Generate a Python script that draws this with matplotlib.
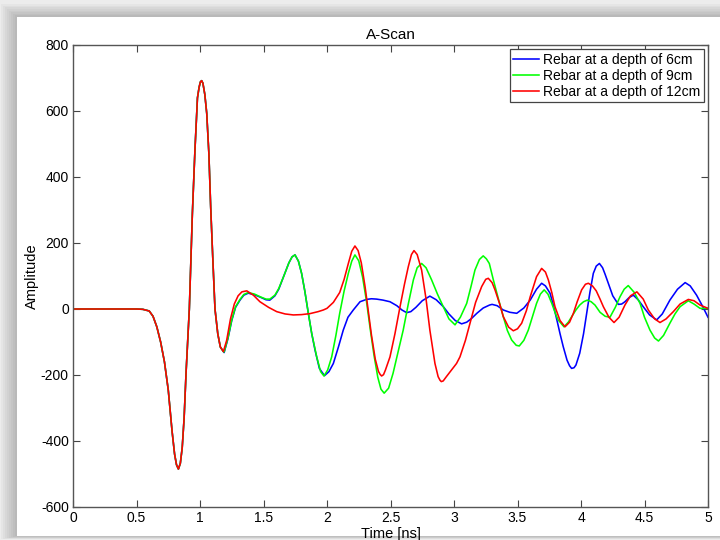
import matplotlib
matplotlib.use("Agg")
import matplotlib.pyplot as plt
from matplotlib.patches import Rectangle

plt.rcParams['font.family'] = ['Liberation Sans', 'DejaVu Sans']
plt.rcParams['axes.unicode_minus'] = False

# ---------------- data ----------------
title = "A-Scan"
xlabel = "Time [ns]"
ylabel = "Amplitude"
labels = ["Rebar at a depth of 6cm", "Rebar at a depth of 9cm", "Rebar at a depth of 12cm"]
colors = ["#0000ff", "#00ff00", "#ff0000"]
xticks = [0, 0.5, 1, 1.5, 2, 2.5, 3, 3.5, 4, 4.5, 5]
xticklabels = ["0", "0.5", "1", "1.5", "2", "2.5", "3", "3.5", "4", "4.5", "5"]
yticks = [-600, -400, -200, 0, 200, 400, 600, 800]

# shared direct pulse (identical for all three depths)
pulse_t = [0, 0.5, 0.55, 0.6, 0.63, 0.66, 0.69, 0.72, 0.75, 0.78, 0.80, 0.815, 0.83,
           0.845, 0.86, 0.875, 0.89, 0.916, 0.94, 0.96, 0.98, 0.993, 1.003, 1.013,
           1.023, 1.038, 1.053, 1.07, 1.084, 1.1, 1.118, 1.14, 1.16, 1.184]
pulse_a = [0, 0, -1, -6, -22, -54, -100, -160, -245, -370, -440, -472, -485,
           -468, -420, -330, -195, 0, 290, 480, 640, 672, 688, 692,
           684, 650, 593, 470, 310, 160, 0, -75, -115, -129]

t_6cm = [1.19, 1.22, 1.25, 1.28, 1.315, 1.345, 1.38, 1.43, 1.48, 1.52, 1.55, 1.59, 1.62,
         1.66, 1.70, 1.725, 1.748, 1.775, 1.80, 1.825, 1.853, 1.88, 1.906, 1.94, 1.98,
         2.015, 2.05, 2.09, 2.128, 2.165, 2.207, 2.26, 2.31, 2.35, 2.39, 2.44, 2.496,
         2.55, 2.59, 2.627, 2.66, 2.70, 2.75, 2.81, 2.86, 2.916, 2.96, 3.01, 3.06, 3.10,
         3.14, 3.18, 3.23, 3.28, 3.30, 3.34, 3.388, 3.44, 3.494, 3.55, 3.60, 3.65, 3.69,
         3.72, 3.756, 3.78, 3.81, 3.835, 3.86, 3.89, 3.91, 3.926, 3.945, 3.96, 3.99,
         4.02, 4.045, 4.07, 4.097, 4.12, 4.145, 4.17, 4.19, 4.215, 4.25, 4.294, 4.32,
         4.346, 4.38, 4.412, 4.45, 4.49, 4.54, 4.596, 4.64, 4.70, 4.76, 4.82, 4.86,
         4.91, 4.955, 5.0]
a_6cm = [-132, -90, -35, 5, 27, 42, 48, 43, 35, 28, 27, 40, 60,
         100, 140, 158, 164, 145, 108, 55, -13, -75, -125, -180, -202,
         -190, -165, -115, -64, -25, -3, 22, 29, 31, 30, 27, 22,
         10, -3, -11, -8, 5, 25, 39, 28, 7, -15, -35, -45, -40,
         -28, -13, 3, 12, 14, 10, -3, -10, -13, 3, 27, 60, 78,
         70, 48, 15, -33, -75, -114, -155, -172, -180, -178, -170, -134,
         -75, -13, 50, 108, 130, 138, 125, 105, 78, 40, 14, 15,
         22, 35, 42, 28, 7, -18, -33, -15, 27, 60, 80, 70,
         42, 10, -25]

t_9cm = [1.19, 1.22, 1.25, 1.28, 1.315, 1.345, 1.38, 1.43, 1.48, 1.52, 1.55, 1.59, 1.62,
         1.66, 1.70, 1.725, 1.748, 1.775, 1.80, 1.825, 1.853, 1.88, 1.919, 1.95, 1.976,
         2.005, 2.037, 2.07, 2.10, 2.135, 2.168, 2.195, 2.22, 2.25, 2.28, 2.31, 2.34,
         2.37, 2.40, 2.425, 2.45, 2.485, 2.52, 2.56, 2.60, 2.64, 2.68, 2.71, 2.745, 2.78,
         2.824, 2.87, 2.916, 2.96, 3.008, 3.05, 3.10, 3.135, 3.165, 3.20, 3.23, 3.255,
         3.278, 3.31, 3.35, 3.388, 3.42, 3.454, 3.49, 3.514, 3.55, 3.585, 3.62, 3.65,
         3.68, 3.71, 3.74, 3.77, 3.80, 3.82, 3.866, 3.90, 3.927, 3.96, 3.99, 4.02, 4.05,
         4.08, 4.11, 4.15, 4.19, 4.228, 4.27, 4.307, 4.34, 4.372, 4.42, 4.465, 4.50,
         4.543, 4.58, 4.61, 4.65, 4.70, 4.74, 4.78, 4.845, 4.89, 4.937, 5.0]
a_9cm = [-130, -88, -33, 7, 29, 44, 50, 45, 36, 30, 30, 42, 62,
         100, 140, 158, 164, 145, 108, 55, -13, -75, -145, -190, -203,
         -185, -145, -80, -13, 55, 108, 145, 164, 146, 97, 26, -60,
         -140, -207, -243, -255, -240, -195, -130, -64, 15, 88, 125, 138, 125,
         88, 45, 7, -30, -48, -25, 17, 70, 118, 150, 161, 152,
         138, 88, 30, -23, -65, -94, -110, -112, -95, -64, -20, 17,
         45, 58, 45, 17, -15, -33, -54, -40, -23, -3, 12, 22, 27,
         22, 12, -10, -22, -25, 5, 37, 60, 71, 50, 17, -25,
         -64, -88, -97, -80, -43, -15, 7, 25, 15, 2, 2]

t_12cm = [1.21, 1.24, 1.27, 1.30, 1.33, 1.368, 1.42, 1.472, 1.54, 1.604, 1.67, 1.735,
          1.80, 1.866, 1.93, 1.971, 2.0, 2.05, 2.10, 2.135, 2.168, 2.195, 2.22, 2.245,
          2.27, 2.30, 2.325, 2.35, 2.38, 2.405, 2.418, 2.43, 2.445, 2.46, 2.496, 2.535,
          2.575, 2.61, 2.64, 2.665, 2.685, 2.71, 2.745, 2.78, 2.81, 2.85, 2.875, 2.89,
          2.90, 2.915, 2.94, 2.98, 3.02, 3.047, 3.09, 3.126, 3.17, 3.218, 3.25, 3.27,
          3.30, 3.323, 3.36, 3.388, 3.43, 3.467, 3.50, 3.533, 3.57, 3.60, 3.65, 3.69,
          3.72, 3.743, 3.77, 3.795, 3.835, 3.874, 3.91, 3.94, 3.97, 4.005, 4.035, 4.058,
          4.09, 4.12, 4.15, 4.176, 4.22, 4.26, 4.30, 4.346, 4.39, 4.44, 4.49, 4.53,
          4.58, 4.622, 4.67, 4.727, 4.78, 4.845, 4.89, 4.937, 5.0]
a_12cm = [-95, -30, 15, 40, 52, 55, 42, 22, 5, -8, -15, -18,
          -17, -14, -8, -3, 2, 20, 50, 90, 138, 175, 191, 177,
          140, 67, -5, -79, -152, -189, -198, -203, -199, -185, -145, -75,
          7, 75, 128, 165, 177, 165, 118, 30, -64, -165, -205, -216,
          -220, -218, -205, -185, -165, -145, -95, -43, 20, 68, 90, 93,
          80, 58, 15, -23, -55, -66, -60, -43, -5, 37, 98, 123,
          112, 88, 50, 7, -35, -54, -40, -13, 22, 58, 75, 78,
          70, 55, 30, 7, -25, -41, -25, 12, 40, 52, 30, -3,
          -30, -41, -30, -8, 15, 29, 25, 12, 2]

series_t = [pulse_t + t_6cm, pulse_t + t_9cm, pulse_t + t_12cm]
series_a = [pulse_a + a_6cm, pulse_a + a_9cm, pulse_a + a_12cm]

# ---------------- figure ----------------
W, H = 720, 540
fig = plt.figure(figsize=(7.2, 5.4), dpi=100)
fig.patch.set_facecolor('#ececec')

# window drop-shadow + white panel
px0, py_top, py_bot = 17, 17, 536
for k in range(8, 0, -1):
    fig.patches.append(Rectangle(((px0 - 2 * k) / W, (H - py_bot - k * 0.4) / H),
                                 1.2, (py_bot - py_top + 2 * k) / H,
                                 transform=fig.transFigure, facecolor='black',
                                 alpha=0.028, edgecolor='none', zorder=-10))
fig.patches.append(Rectangle((px0 / W, (H - py_bot) / H), 1.2, (py_bot - py_top) / H,
                             transform=fig.transFigure, facecolor='white',
                             edgecolor='none', zorder=-5))

ax = fig.add_axes([73 / W, 1 - 507 / H, (708 - 73) / W, (507 - 45) / H])
ax.set_facecolor('white')

for t, a, c, lab in zip(series_t, series_a, colors, labels):
    ax.plot(t, a, color=c, lw=1.15, label=lab, solid_joinstyle='round')

ax.set_xlim(0, 5)
ax.set_ylim(-600, 800)
ax.set_xticks(xticks)
ax.set_xticklabels(xticklabels)
ax.set_yticks(yticks)
ax.tick_params(direction='in', top=True, right=True, length=5, width=0.8,
               color='#444444', labelsize=10, pad=3)
for s in ax.spines.values():
    s.set_color('#555555')
    s.set_linewidth(1.0)

ax.set_title(title, fontsize=11, pad=4)
ax.set_xlabel(xlabel, fontsize=10.5, labelpad=1)
ax.set_ylabel(ylabel, fontsize=10.5, labelpad=1)

leg = ax.legend(loc='upper right', bbox_to_anchor=(1.0, 1.0), borderaxespad=0.3,
                fontsize=10, fancybox=False, framealpha=1, edgecolor='#444444',
                handlelength=1.85, handletextpad=0.3, labelspacing=0.15,
                borderpad=0.25)
leg.get_frame().set_linewidth(0.9)

fig.savefig("out.png", dpi=100, facecolor=fig.get_facecolor())
